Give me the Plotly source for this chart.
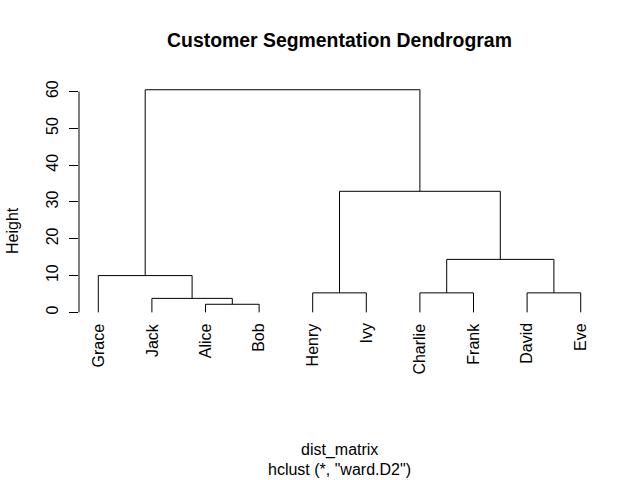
import plotly.graph_objects as go

# ---- data ----
leaf_labels = ["Grace", "Jack", "Alice", "Bob", "Henry", "Ivy", "Charlie", "Frank", "David", "Eve"]
# merges: children are leaf names or "#k" (k-th merge, 1-based)
merge_a = ["Alice", "Jack", "Grace", "Henry", "Charlie", "David", "#5", "#4", "#3"]
merge_b = ["Bob", "#1", "#2", "Ivy", "Frank", "Eve", "#6", "#7", "#8"]
merge_height = [2.2, 3.8, 10.0, 5.3, 5.3, 5.3, 14.4, 32.9, 60.5]
y_ticks = [0, 10, 20, 30, 40, 50, 60]

title_text = "Customer Segmentation Dendrogram"
xlab = "dist_matrix"
sublab = 'hclust (*, "ward.D2")'
ylab = "Height"

FONT = "Liberation Sans"

# ---- build dendrogram segments ----
leaf_pos = {name: i + 1 for i, name in enumerate(leaf_labels)}
node_x, node_h = [], []


def child_xy(c):
    if c.startswith("#"):
        k = int(c[1:]) - 1
        return node_x[k], node_h[k]
    return leaf_pos[c], 0.0


xs, ys = [], []
for a, b, h in zip(merge_a, merge_b, merge_height):
    xa, ha = child_xy(a)
    xb, hb = child_xy(b)
    xs += [xa, xa, xb, xb, None]
    ys += [ha, h, h, hb, None]
    node_x.append((xa + xb) / 2)
    node_h.append(h)

fig = go.Figure()
fig.add_trace(go.Scatter(x=xs, y=ys, mode="lines",
                         line=dict(color="black", width=1),
                         hoverinfo="skip", showlegend=False))

y_range = [-18.92, 63.42]
x_range = [0.64, 10.36]

# y-axis line spanning only tick range (R style)
def to_paper_y(v):
    return (v - y_range[0]) / (y_range[1] - y_range[0])

fig.add_shape(type="line", xref="paper", yref="paper",
              x0=0, x1=0, y0=to_paper_y(y_ticks[0]), y1=to_paper_y(y_ticks[-1]),
              line=dict(color="black", width=1))

# leaf labels
for name in leaf_labels:
    fig.add_annotation(x=leaf_pos[name], y=-2.4, xref="x", yref="y",
                       text=name, showarrow=False, textangle=-90,
                       xanchor="center", yanchor="top",
                       font=dict(family=FONT, size=16, color="black"))

fig.add_annotation(x=0.5, y=-0.2244, xref="paper", yref="paper", text=xlab,
                   showarrow=False, xanchor="center", yanchor="middle",
                   font=dict(family=FONT, size=16, color="black"))
fig.add_annotation(x=0.5, y=-0.2904, xref="paper", yref="paper", text=sublab,
                   showarrow=False, xanchor="center", yanchor="middle",
                   font=dict(family=FONT, size=16, color="black"))
fig.add_annotation(x=-0.1267, y=0.5017, xref="paper", yref="paper", text=ylab,
                   showarrow=False, textangle=-90, xanchor="center", yanchor="middle",
                   borderpad=0,
                   font=dict(family=FONT, size=16, color="black"))

fig.update_layout(
    width=640, height=480,
    margin=dict(l=79, r=40, t=79, b=98, pad=0),
    paper_bgcolor="white", plot_bgcolor="white",
    title=dict(text="<b>" + title_text + "</b>", x=0.5, xref="paper",
               y=1 - 40 / 480, yref="container", yanchor="middle", xanchor="center",
               font=dict(family=FONT, size=19.4, color="black")),
    xaxis=dict(range=x_range, visible=False, fixedrange=True),
    yaxis=dict(range=y_range, tickmode="array", tickvals=y_ticks,
               ticktext=[str(v) for v in y_ticks],
               ticks="outside", ticklen=9, tickwidth=1, tickcolor="black",
               tickangle=-90, ticklabelstandoff=5,
               showgrid=False, zeroline=False, showline=False,
               tickfont=dict(family=FONT, size=16, color="black"),
               fixedrange=True),
    showlegend=False,
)

fig.write_html("out.html", config={"displayModeBar": False, "staticPlot": True},
               post_script="document.body.style.margin='0';document.body.style.overflow='hidden';")
